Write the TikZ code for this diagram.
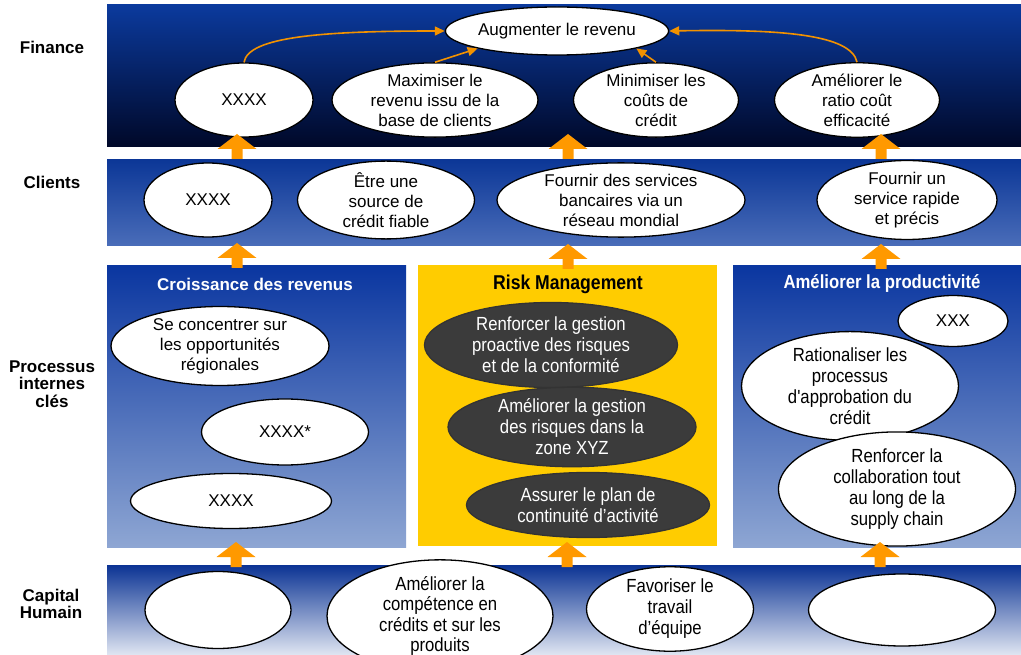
\documentclass[tikz,border=0pt]{standalone}
\usepackage{fontspec}
\setmainfont{Liberation Sans}
\newfontfamily\narrowfont[FakeStretch=0.88]{Liberation Sans}
\usetikzlibrary{arrows.meta,shapes.geometric}

\definecolor{finTop}{HTML}{0B3A9D}
\definecolor{finMid}{HTML}{04194F}
\definecolor{finBot}{HTML}{000828}
\definecolor{cliTop}{HTML}{0C3797}
\definecolor{cliBot}{HTML}{4A6DB9}
\definecolor{panTop}{HTML}{0A36A0}
\definecolor{panBot}{HTML}{8EA6D3}
\definecolor{capTop}{HTML}{0B3394}
\definecolor{capMid}{HTML}{7F96CB}
\definecolor{capBot}{HTML}{E0E6F2}
\definecolor{riskYellow}{HTML}{FFCC00}
\definecolor{blockOrange}{HTML}{FF9900}
\definecolor{linkOrange}{HTML}{F39200}
\definecolor{darkOval}{HTML}{3B3B3B}

\tikzset{
  oval/.style={ellipse, draw=black, line width=1.3pt, fill=white, inner sep=0pt,
    align=center, font=\fontsize{17}{20}\selectfont},
  narrowoval/.style={oval, font=\narrowfont\fontsize{19}{21}\selectfont},
  darkoval/.style={oval, draw=black!80, fill=darkOval, text=white,
    font=\narrowfont\fontsize{19}{21}\selectfont},
  sz/.style 2 args={minimum width=#1, minimum height=#2},
  rowlabel/.style={align=center, font=\bfseries\fontsize{17}{17.5}\selectfont},
  paneltitle/.style={font=\bfseries\fontsize{17}{20}\selectfont, text=white},
  link/.style={draw=linkOrange, line width=1.6pt,
    -{Triangle[length=10pt,width=9pt]}},
  pics/blockup/.style={code={
    \fill[blockOrange] (0,0) -- (19.5,15) -- (5.5,15) -- (5.5,25)
      -- (-5.5,25) -- (-5.5,15) -- (-19.5,15) -- cycle;}}
}

\begin{document}
\begin{tikzpicture}[x=1pt,y=-1pt]
\useasboundingbox (0,0) rectangle (1021,655);
\clip (0,0) rectangle (1021,655);
\fill[white] (0,0) rectangle (1021,655);

% bands and panels
\shade[top color=finTop, middle color=finMid, bottom color=finBot]
  (107,5) rectangle (1021,147);
\shade[top color=cliTop, bottom color=cliBot] (107,160) rectangle (1021,246);
\shade[top color=panTop, bottom color=panBot] (107,266) rectangle (406,547);
\fill[riskYellow] (418,265) rectangle (717,546);
\shade[top color=panTop, bottom color=panBot] (733,266) rectangle (1021,547);
\shade[top color=capTop, middle color=capMid, bottom color=capBot]
  (107,565) rectangle (1021,655);

% row labels
\node[rowlabel] (lfin) at (52,47) {Finance};
\node[rowlabel] (lcli) at (52,182) {Clients};
\node[rowlabel] (lpro) at (52,384) {Processus\\internes\\clés};
\node[rowlabel] (lcap) at (51,604) {Capital\\Humain};

% finance
\node[oval, sz={217}{48}] (aug) at (557,31) {Augmenter le revenu};
\node[oval, sz={138}{74}] (fx) at (244,100) {XXXX};
\node[oval, sz={206}{74}] (fmax) at (435,100) {Maximiser le\\revenu issu de la\\base de clients};
\node[oval, sz={165}{74}] (fmin) at (656,100) {Minimiser les\\coûts de\\crédit};
\node[oval, sz={165}{74}] (frat) at (857,100) {Améliorer le\\ratio coût\\efficacité};

\draw[link] (fx.north) .. controls +(4,-26) and +(-120,0) .. (aug.west);
\draw[link] (fmax.north) -- (aug.south west);
\draw[link] (fmin.north) -- (aug.south east);
\draw[link] (frat.north) .. controls +(-6,-28) and +(110,-2) .. (aug.east);

% clients
\node[oval, sz={128}{74}] (cx) at (208,200) {XXXX};
\node[oval, sz={177}{74}] (cfia) at (386,200) {Être une\\source de\\crédit fiable};
\node[oval, sz={248}{74}] (cres) at (621,200) {Fournir des services\\bancaires via un\\réseau mondial};
\node[oval, sz={180}{75}] (crap) at (907,200) {Fournir un\\service rapide\\et précis};

% internal processes: revenue growth
\node[paneltitle] (tcro) at (255,284) {Croissance des revenus};
\node[oval, sz={218}{79}] (pse) at (220,346) {Se concentrer sur\\les opportunités\\régionales};
\node[oval, sz={167}{66}] (px1) at (285,432) {XXXX*};
\node[oval, sz={201}{55}] (px2) at (231,501) {XXXX};

% internal processes: risk management
\node[font=\narrowfont\bfseries\fontsize{20}{22}\selectfont] (trisk) at (568,284) {Risk Management};
\node[darkoval, sz={253}{85}] (r1) at (551,345) {Renforcer la gestion\\proactive des risques\\et de la conformité};
\node[darkoval, sz={248}{74}] (r2) at (572,427) {Améliorer la gestion\\des risques dans la\\zone XYZ};
\node[darkoval, sz={243}{65}] (r3) at (588,505) {Assurer le plan de\\continuité d’activité};

% internal processes: productivity
\node[paneltitle, font=\narrowfont\bfseries\fontsize{19}{21}\selectfont] (tprod) at (882,284) {Améliorer la productivité};
\node[oval, sz={110}{51}] (rx) at (953,321) {XXX};
\node[narrowoval, sz={217}{87}] (rrat) at (850,386) {Rationaliser les\\processus\\d'approbation du\\crédit};
\node[narrowoval, sz={237}{98}] (rcol) at (897,489) {Renforcer la\\collaboration tout\\au long de la\\supply chain};

% human capital
\node[narrowoval, sz={146}{77}] (h1) at (218,610) {};
\node[narrowoval, sz={226}{94}, font=\narrowfont\fontsize{19}{20.5}\selectfont] (h2) at (440,616) {Améliorer la\\compétence en\\crédits et sur les\\produits};
\node[narrowoval, sz={167}{75}] (h3) at (670,609) {Favoriser le\\travail\\d’équipe};
\node[narrowoval, sz={187}{72}] (h4) at (902,610) {};

% block arrows between layers
\pic at (237,134) {blockup};
\pic at (568,134) {blockup};
\pic at (881,134) {blockup};
\pic at (237,243) {blockup};
\pic at (568,244) {blockup};
\pic at (881,244) {blockup};
\pic at (236,542) {blockup};
\pic at (567,542) {blockup};
\pic at (880,542) {blockup};
\end{tikzpicture}
\end{document}
